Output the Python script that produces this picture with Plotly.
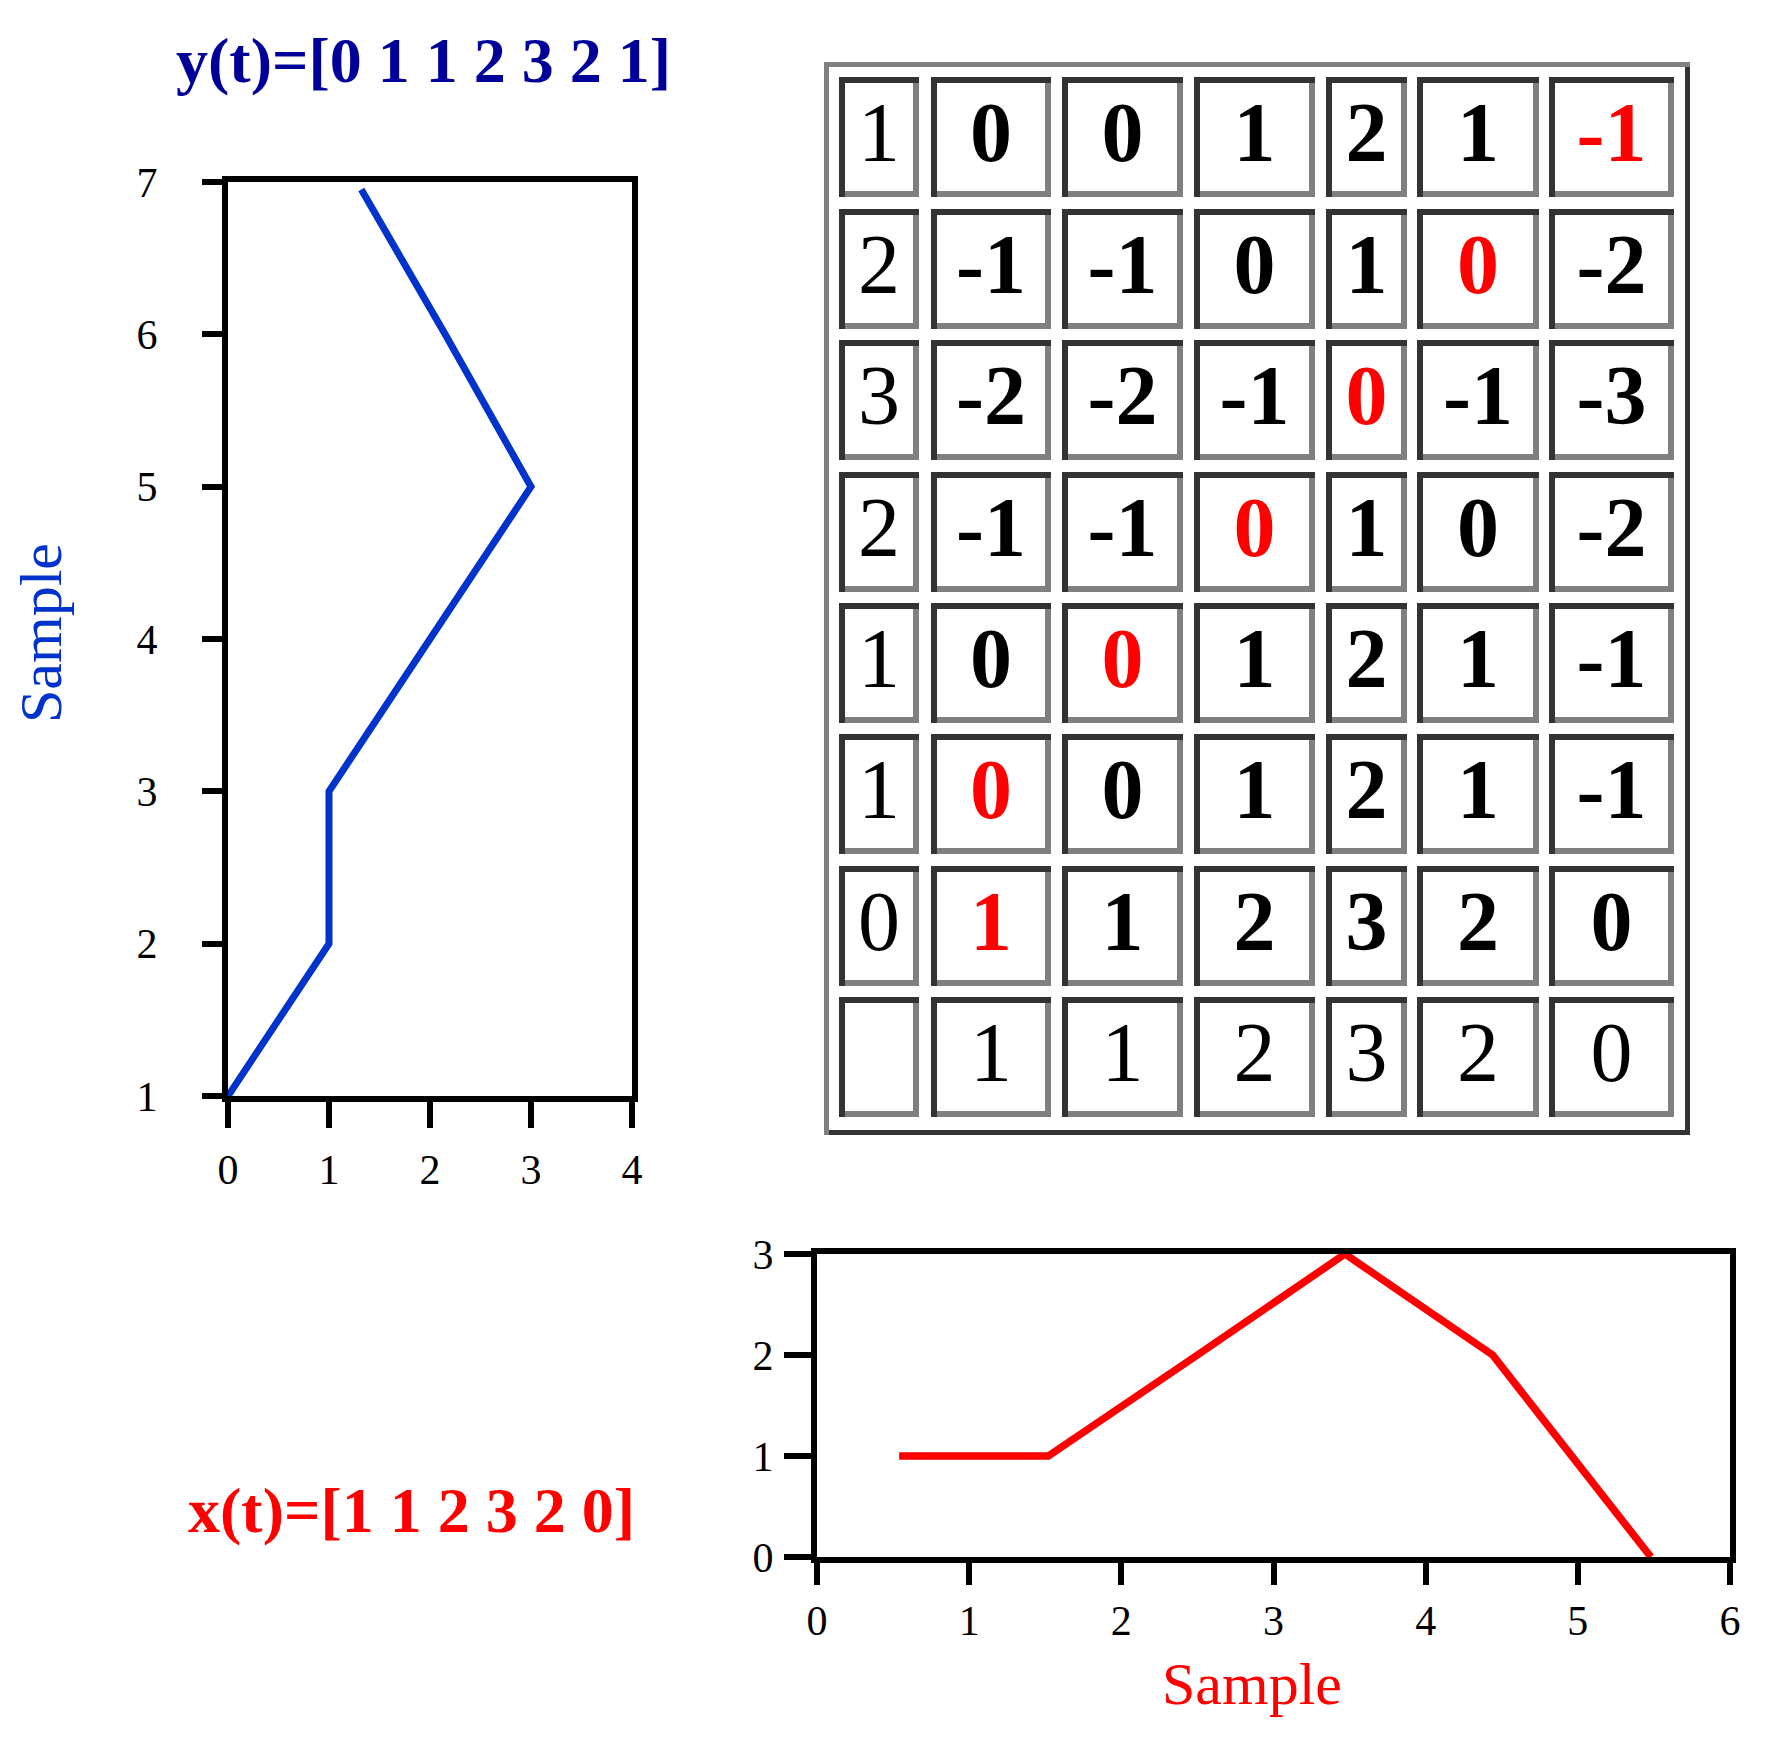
import plotly.graph_objects as go

W, H = 1772, 1746

# y(t): drawn sideways, value on x, sample index on y
y_samples = [1, 2, 3, 4, 5, 6, 6.95]
y_values = [0, 1, 1, 2, 3, 2.15, 1.32]
y_title = "y(t)=[0 1 1 2 3 2 1]"

# x(t): drawn along the bottom
x_samples = [0.54, 1.52, 2.5, 3.47, 4.44, 5.48]
x_values = [1, 1, 2, 3, 2, 0]
x_title = "x(t)=[1 1 2 3 2 0]"

# difference matrix, left column = y reversed, bottom row = x
table_left = ["1", "2", "3", "2", "1", "1", "0"]
table_bottom = ["", "1", "1", "2", "3", "2", "0"]
table_body = [
    ["0", "0", "1", "2", "1", "-1"],
    ["-1", "-1", "0", "1", "0", "-2"],
    ["-2", "-2", "-1", "0", "-1", "-3"],
    ["-1", "-1", "0", "1", "0", "-2"],
    ["0", "0", "1", "2", "1", "-1"],
    ["0", "0", "1", "2", "1", "-1"],
    ["1", "1", "2", "3", "2", "0"],
]
path_cells = [(0, 5), (1, 4), (2, 3), (3, 2), (4, 1), (5, 0), (6, 0)]

SERIF = "Liberation Serif, Times New Roman, serif"
BLUE = "#0033cc"
NAVY = "#000099"
RED = "#ff0000"
DARK = "#333333"
GRAY = "#808080"

PAGE_OFF = 8  # the html body margin pushes the figure down/right


def fx(p):
    return (p - PAGE_OFF) / W


def fy(p):
    return 1 - (p - PAGE_OFF) / H


# table geometry (pixels on the hidden table axes)
col_edges = [(839, 919), (931, 1051), (1062, 1183), (1194, 1315),
             (1326, 1407), (1417, 1539), (1549, 1674)]
row_tops = [77, 209, 340, 472, 603, 734, 866, 997]
row_h = 120
bw = 6

shapes = []


def bevel(x0, y0, x1, y1, tl, br, w):
    s = dict(type="rect", xref="x3", yref="y3", line=dict(width=0), layer="below")
    shapes.append(dict(s, x0=x0, y0=y0, x1=x1, y1=y1, fillcolor=br))
    shapes.append(dict(s, x0=x0, y0=y0, x1=x1, y1=y0 + w, fillcolor=tl))
    shapes.append(dict(s, x0=x0, y0=y0, x1=x0 + w, y1=y1, fillcolor=tl))
    shapes.append(dict(s, x0=x0 + w, y0=y0 + w, x1=x1 - w, y1=y1 - w, fillcolor="white"))


bevel(824, 62, 1690, 1135, GRAY, DARK, 5)

tx, ty, tt, tc = [], [], [], []
for r, top in enumerate(row_tops):
    for c, (x0, x1) in enumerate(col_edges):
        bevel(x0, top, x1, top + row_h, DARK, GRAY, bw)
        if r < len(table_body):
            if c == 0:
                txt, col = table_left[r], "black"
            else:
                txt = table_body[r][c - 1]
                col = RED if (r, c - 1) in path_cells else "black"
                txt = "<b>" + txt + "</b>"
        else:
            txt, col = table_bottom[c], "black"
        tx.append((x0 + x1) / 2)
        ty.append(top + row_h / 2 + 3)
        tt.append(txt)
        tc.append(col)

fig = go.Figure()

fig.add_trace(go.Scatter(x=y_values, y=y_samples, mode="lines",
                         line=dict(color=BLUE, width=7), xaxis="x", yaxis="y",
                         showlegend=False))
fig.add_trace(go.Scatter(x=x_samples, y=x_values, mode="lines",
                         line=dict(color=RED, width=7.5), xaxis="x2", yaxis="y2",
                         showlegend=False))
fig.add_trace(go.Scatter(x=tx, y=ty, text=tt, mode="text", textposition="middle center",
                         textfont=dict(family=SERIF, size=84, color=tc),
                         xaxis="x3", yaxis="y3", showlegend=False, hoverinfo="skip"))

tick_font = dict(family=SERIF, size=42, color="black")
axis_common = dict(showline=True, linewidth=6, linecolor="black", mirror=True,
                   ticks="outside", tickwidth=6, tickcolor="black", showgrid=False,
                   zeroline=False, tickfont=tick_font, automargin=False)

fig.update_layout(
    template="none",
    width=W, height=H, autosize=False,
    margin=dict(l=0, r=0, t=0, b=0, pad=0),
    paper_bgcolor="white", plot_bgcolor="white",
    shapes=shapes,
    xaxis=dict(axis_common, domain=[fx(228), fx(632)], range=[0, 4], anchor="y",
               tickvals=[0, 1, 2, 3, 4], ticklen=26, ticklabelstandoff=6),
    yaxis=dict(axis_common, domain=[fy(1096), fy(182)], range=[1, 7], anchor="x",
               tickvals=[1, 2, 3, 4, 5, 6, 7], ticklen=20, ticklabelstandoff=36),
    xaxis2=dict(axis_common, domain=[fx(817), fx(1730)], range=[0, 6], anchor="y2",
                tickvals=[0, 1, 2, 3, 4, 5, 6], ticklen=22, ticklabelstandoff=0),
    yaxis2=dict(axis_common, domain=[fy(1557), fy(1254)], range=[0, 3], anchor="x2",
                tickvals=[0, 1, 2, 3], ticklen=27, ticklabelstandoff=2),
    xaxis3=dict(domain=[fx(820), fx(1700)], range=[820, 1700], visible=False,
                anchor="y3", automargin=False),
    yaxis3=dict(domain=[fy(1140), fy(55)], range=[1140, 55], visible=False,
                anchor="x3", automargin=False),
    annotations=[
        dict(text="<b>" + y_title + "</b>", x=fx(423), y=fy(60), xref="paper", yref="paper",
             showarrow=False, xanchor="center", yanchor="middle",
             font=dict(family=SERIF, size=64, color=NAVY)),
        dict(text="<b>" + x_title + "</b>", x=fx(411), y=fy(1510), xref="paper", yref="paper",
             showarrow=False, xanchor="center", yanchor="middle",
             font=dict(family=SERIF, size=64, color=RED)),
        dict(text="Sample", x=fx(41), y=fy(633), xref="paper", yref="paper", textangle=-90,
             showarrow=False, xanchor="center", yanchor="middle",
             font=dict(family=SERIF, size=60, color=BLUE)),
        dict(text="Sample", x=fx(1252), y=fy(1684), xref="paper", yref="paper",
             showarrow=False, xanchor="center", yanchor="middle",
             font=dict(family=SERIF, size=60, color=RED)),
    ],
)

fig.write_html("out.html")
